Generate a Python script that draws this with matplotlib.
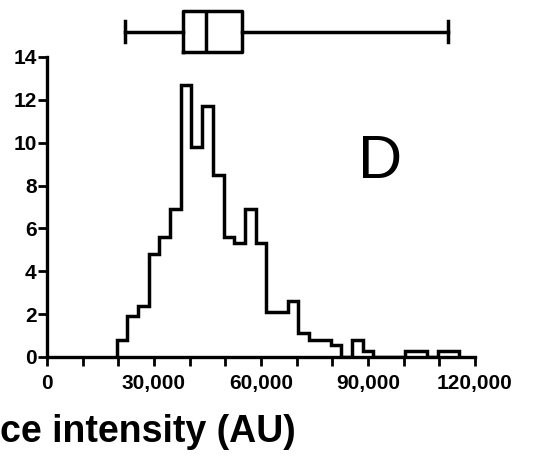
import numpy as np
import matplotlib
matplotlib.use("Agg")
import matplotlib.pyplot as plt
from matplotlib.ticker import MultipleLocator, FuncFormatter

# histogram: bins 3,000 wide, first edge at 19,500
bin_edges = np.arange(19500, 115500 + 1, 3000)
freq = [0.8, 1.9, 2.4, 4.8, 5.6, 6.9, 12.7, 9.8, 11.7, 8.5,
        5.6, 5.3, 6.9, 5.3, 2.1, 2.1, 2.6, 1.1, 0.8, 0.8,
        0.55, 0.0, 0.8, 0.28, 0.0, 0.0, 0.0, 0.28, 0.28, 0.0,
        0.28, 0.28]

# box plot summary (min / q1 / median / q3 / max)
box_min = 21900
box_q1 = 38000
box_med = 44500
box_q3 = 54700
box_max = 112300

x_label = "ce intensity (AU)"   # only this part is visible in the panel
panel_letter = "D"

plt.rcParams['font.family'] = ['Liberation Sans', 'DejaVu Sans']

fig = plt.figure(figsize=(5.55, 4.57), dpi=100)
ax = fig.add_axes([47/555, 1 - 357/457, 428/555, 300/457])

ax.stairs(freq, bin_edges, color='black', lw=2.5, fill=False, baseline=0)

ax.set_xlim(0, 120000)
ax.set_ylim(0, 14)
ax.spines['top'].set_visible(False)
ax.spines['right'].set_visible(False)
for s in ['left', 'bottom']:
    ax.spines[s].set_linewidth(2.4)

ax.xaxis.set_major_locator(MultipleLocator(10000))
ax.xaxis.set_major_formatter(FuncFormatter(
    lambda v, p: f"{v:,.0f}" if round(v) % 30000 == 0 else ""))
ax.yaxis.set_major_locator(MultipleLocator(2))
ax.tick_params(axis='both', direction='out', length=6.5, width=2,
               labelsize=15)
ax.tick_params(axis='x', pad=6)
ax.tick_params(axis='y', pad=1)
for lab in ax.get_xticklabels() + ax.get_yticklabels():
    lab.set_fontweight('bold')

ax.text((380 - 47) / 428, (357 - 162) / 300, panel_letter,
        transform=ax.transAxes, fontsize=44, ha='center', va='center')

fig.text(296/555, 1 - 432/457, x_label, fontsize=27, fontweight='bold',
         ha='right', va='center')

# box plot above the histogram
bx = fig.add_axes([47/555, 1 - 57/457, 428/555, 57/457])
bx.set_xlim(0, 120000)
bx.set_ylim(0, 1)
bx.axis('off')
stats = [dict(med=box_med, q1=box_q1, q3=box_q3,
              whislo=box_min, whishi=box_max, fliers=[])]
lp = dict(color='black', linewidth=2.5)
bx.bxp(stats, positions=[0.444], widths=0.71, capwidths=0.37,
       orientation='horizontal', showfliers=False,
       boxprops=lp, medianprops=lp, whiskerprops=lp, capprops=lp,
       manage_ticks=False)

fig.savefig("out.png", dpi=100)
